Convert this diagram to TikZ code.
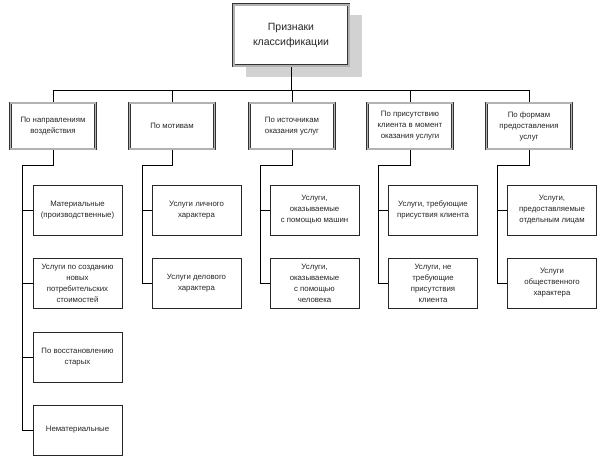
\documentclass[tikz,border=0pt]{standalone}
\usepackage{fontspec}
\setmainfont{Liberation Sans}
\usepackage{tikz}
\usetikzlibrary{positioning}
\pgfdeclarelayer{background}
\pgfdeclarelayer{foreground}
\pgfsetlayers{background,main,foreground}

\begin{document}
\begin{tikzpicture}[x=1pt, y=1pt,
	topnode/.style={rectangle, draw=black!80, double=gray!60, double distance=2pt, line width=0.6pt, fill=white, minimum width=115pt, minimum height=61pt, align=center, font=\fontsize{10.5}{15}\selectfont, text=black!85},
	groupnode/.style={rectangle, draw=black!80, double=gray!60, double distance=1.8pt, line width=0.55pt, fill=white, minimum width=85pt, minimum height=46pt, align=center, font=\fontsize{7.8}{11}\selectfont, text=black!85},
	leafnode/.style={rectangle, draw=black!85, line width=0.65pt, fill=white, minimum width=89pt, minimum height=50pt, align=center, font=\fontsize{7.8}{11}\selectfont, text=black!85},
	link/.style={draw=black, line width=0.75pt},
	]
	\useasboundingbox (0,0) rectangle (600,-458);
	%Nodes
	\node[topnode]   (top) at (291,-35)  {Признаки\\классификации};
	\node[groupnode] (p1)  at (53,-126)  {По направлениям\\воздействия};
	\node[groupnode] (p2)  at (172,-126) {По мотивам};
	\node[groupnode] (p3)  at (292,-126) {По источникам\\оказания услуг};
	\node[groupnode] (p4)  at (410,-126) {По присутствию\\клиента в момент\\оказания услуги};
	\node[groupnode] (p5)  at (529,-126) {По формам\\предоставления\\услуг};

	\node[leafnode]  (l11) at (77.5,-210)  {Материальные\\(производственные)};
	\node[leafnode]  (l12) at (77.5,-283)  {Услуги по созданию\\новых\\потребительских\\стоимостей};
	\node[leafnode]  (l13) at (77.5,-357)  {По восстановлению\\старых};
	\node[leafnode]  (l14) at (77.5,-430)  {Нематериальные};
	\node[leafnode]  (l21) at (196.5,-210) {Услуги личного\\характера};
	\node[leafnode]  (l22) at (196.5,-283) {Услуги делового\\характера};
	\node[leafnode]  (l31) at (314.5,-210) {Услуги,\\оказываемые\\с помощью машин};
	\node[leafnode]  (l32) at (314.5,-283) {Услуги,\\оказываемые\\с помощью\\человека};
	\node[leafnode]  (l41) at (433,-210)   {Услуги, требующие\\присуствия клиента};
	\node[leafnode]  (l42) at (433,-283)   {Услуги, не\\требующие\\присутствия\\клиента};
	\node[leafnode]  (l51) at (552,-210)   {Услуги,\\предоставляемые\\отдельным лицам};
	\node[leafnode]  (l52) at (552,-283)   {Услуги\\общественного\\характера};

	\coordinate (bus) at (0,-90);
	\coordinate (s1) at (22,-165);
	\coordinate (s2) at (142,-165);
	\coordinate (s3) at (260,-165);
	\coordinate (s4) at (378,-165);
	\coordinate (s5) at (497,-165);

	\begin{pgfonlayer}{background}
	%Shadow
	\fill[gray!35] ([xshift=13pt,yshift=-11pt]top.north west) rectangle ([xshift=13pt,yshift=-11pt]top.south east);
	%Lines
	\draw[link] (top.south) -- (top.south |- bus);
	\draw[link] (p1.north) -- (p1.north |- bus) -| (p5.north);
	\draw[link] (p2.north) -- (p2.north |- bus);
	\draw[link] (p3.north) -- (p3.north |- bus);
	\draw[link] (p4.north) -- (p4.north |- bus);

	\draw[link] (p1.south) |- (s1) -- (s1 |- l14.west);
	\draw[link] (p2.south) |- (s2) -- (s2 |- l22.west);
	\draw[link] (p3.south) |- (s3) -- (s3 |- l32.west);
	\draw[link] (p4.south) |- (s4) -- (s4 |- l42.west);
	\draw[link] (p5.south) |- (s5) -- (s5 |- l52.west);

	\draw[link] (s1 |- l11.west) -- (l11.west);
	\draw[link] (s1 |- l12.west) -- (l12.west);
	\draw[link] (s1 |- l13.west) -- (l13.west);
	\draw[link] (s1 |- l14.west) -- (l14.west);
	\draw[link] (s2 |- l21.west) -- (l21.west);
	\draw[link] (s2 |- l22.west) -- (l22.west);
	\draw[link] (s3 |- l31.west) -- (l31.west);
	\draw[link] (s3 |- l32.west) -- (l32.west);
	\draw[link] (s4 |- l41.west) -- (l41.west);
	\draw[link] (s4 |- l42.west) -- (l42.west);
	\draw[link] (s5 |- l51.west) -- (l51.west);
	\draw[link] (s5 |- l52.west) -- (l52.west);
	\end{pgfonlayer}
\end{tikzpicture}
\end{document}
